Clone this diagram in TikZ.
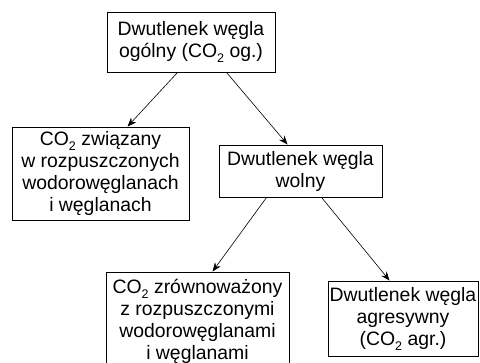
\documentclass[tikz,border=0pt]{standalone}
\usepackage{fontspec}
\setmainfont{Liberation Sans}
\usetikzlibrary{arrows.meta,calc}
\newcommand\subtwo{\raisebox{-5pt}{\fontsize{12.5}{12.5}\selectfont 2}}
\begin{document}
\begin{tikzpicture}[x=1pt,y=-1pt,
  box/.style={draw, line width=0.9pt, inner sep=0pt, align=center,
    font=\fontsize{19.4}{22}\selectfont},
  arr/.style={-{Stealth[length=9pt,width=7pt]}, line width=0.6pt}]
\useasboundingbox (0,0) rectangle (480,363);
\clip (0,0) rectangle (480,363);
\node[box, minimum width=168pt, minimum height=60pt] (top) at (191,42)
  {Dwutlenek węgla\\ogólny (CO\subtwo{} og.)};
\node[box, minimum width=177pt, minimum height=93pt] (left) at (100.5,173.5)
  {CO\subtwo{} związany\\w rozpuszczonych\\wodorowęglanach\\i węglanach};
\node[box, minimum width=163pt, minimum height=52pt] (mid) at (300.5,171)
  {Dwutlenek węgla\\wolny};
\node[box, minimum width=183pt, minimum height=98pt] (bl) at (197.5,321)
  {CO\subtwo{} zrównoważony\\z rozpuszczonymi\\wodorowęglanami\\i węglanami};
\node[box, minimum width=150pt, minimum height=75pt] (br) at (403,318.5)
  {Dwutlenek węgla\\agresywny\\(CO\subtwo{} agr.)};
\draw[arr] ($(top.south west)+(71,0)$) -- ($(left.north west)+(116,0)$);
\draw[arr] ($(top.south west)+(120,0)$) -- ($(mid.north west)+(69,0)$);
\draw[arr] ($(mid.south west)+(48,0)$) -- ($(bl.north west)+(107,0)$);
\draw[arr] ($(mid.south west)+(103,0)$) -- ($(br.north west)+(62,0)$);
\end{tikzpicture}
\end{document}
